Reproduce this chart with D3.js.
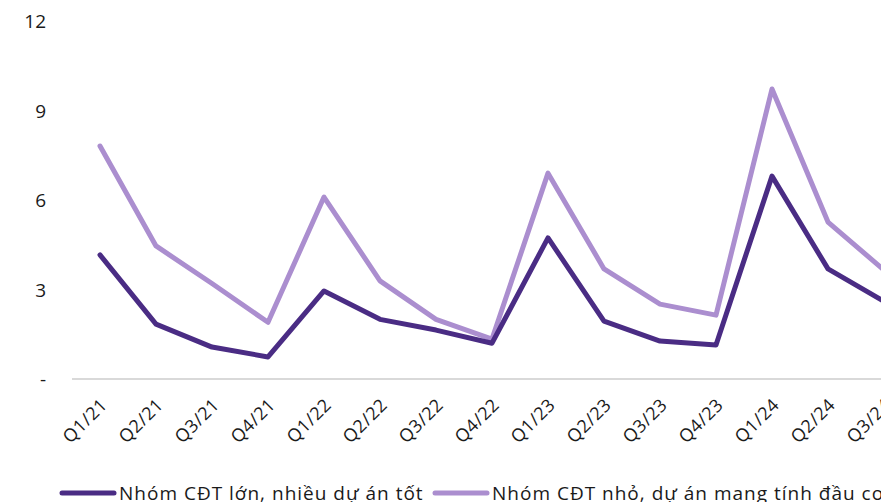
<!DOCTYPE html>
<html lang="vi">
<head>
    <meta charset="UTF-8">
    <title>Chart</title>
    <script src="https://d3js.org/d3.v7.min.js"></script>
    <style>
        body { margin: 0; overflow: hidden; background: #fff; }
        text { font-family: 'Open Sans', sans-serif; fill: #1a1a1a; }
        .tick line { display: none; }
        .domain { display: none; }
    </style>
</head>
<body>
<svg height="502" width="1000"></svg>
<script>
    const quarters = ["Q1/21","Q2/21","Q3/21","Q4/21","Q1/22","Q2/22","Q3/22","Q4/22",
                      "Q1/23","Q2/23","Q3/23","Q4/23","Q1/24","Q2/24","Q3/24"];
    const bigDevs = [4.16, 1.84, 1.07, 0.74, 2.95, 2.0, 1.64, 1.2, 4.73, 1.94, 1.27, 1.14, 6.8, 3.69, 2.6];
    const smallDevs = [7.81, 4.46, 3.2, 1.9, 6.1, 3.29, 2.0, 1.34, 6.9, 3.69, 2.51, 2.14, 9.72, 5.26, 3.65];
    const yTicks = [0, 3, 6, 9, 12];
    const seriesNames = ["Nhóm CĐT lớn, nhiều dự án tốt", "Nhóm CĐT nhỏ, dự án mang tính đầu cơ"];
    const colors = ["#4a2c84", "#ab8ecf"];

    const svg = d3.select("svg");
    const x = d3.scalePoint().domain(quarters).range([100, 100 + 56 * (quarters.length - 1)]);
    const y = d3.scaleLinear().domain([0, 12]).range([379, 21]);

    // baseline
    svg.append("line")
        .attr("x1", 72).attr("x2", 1000)
        .attr("y1", y(0)).attr("y2", y(0))
        .attr("stroke", "#d9d9d9").attr("stroke-width", 2);

    // y axis labels
    const yAxis = d3.axisLeft(y).tickValues(yTicks).tickSize(0).tickPadding(0)
        .tickFormat(d => d === 0 ? "-" : d);
    svg.append("g").attr("transform", "translate(46,0)").call(yAxis)
        .selectAll("text").style("font-size", "19px").attr("dy", "0.35em");

    // x axis labels
    const xAxis = d3.axisBottom(x).tickSize(0).tickPadding(0);
    svg.append("g").attr("transform", `translate(0,${y(0)})`).call(xAxis)
        .selectAll("text")
        .style("font-size", "18px")
        .style("letter-spacing", "0.5px")
        .attr("text-anchor", "end")
        .attr("dy", 0)
        .attr("transform", "translate(8,27) rotate(-45)");

    const line = d3.line().x((d, i) => x(quarters[i])).y(d => y(d));
    [smallDevs, bigDevs].forEach((vals) => {
        svg.append("path").datum(vals)
            .attr("fill", "none")
            .attr("stroke", vals === bigDevs ? colors[0] : colors[1])
            .attr("stroke-width", 5)
            .attr("stroke-linejoin", "round")
            .attr("stroke-linecap", "round")
            .attr("d", line);
    });

    // legend
    const legendX = [60, 433];
    seriesNames.forEach((name, k) => {
        const g = svg.append("g").attr("transform", `translate(${legendX[k]},493)`);
        g.append("line").attr("x1", 2).attr("x2", 54)
            .attr("stroke", colors[k]).attr("stroke-width", 5).attr("stroke-linecap", "round");
        g.append("text").attr("x", 59).attr("y", 7)
            .style("font-size", "19px").style("letter-spacing", "1px").text(name);
    });
</script>
</body>
</html>
